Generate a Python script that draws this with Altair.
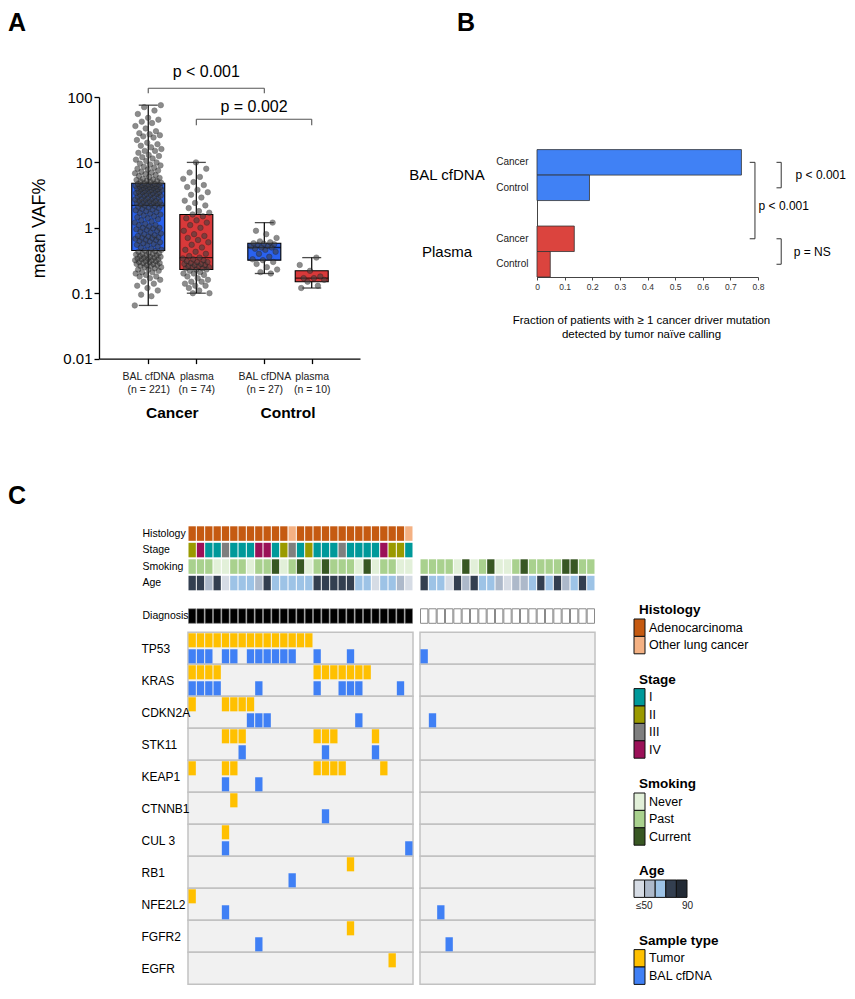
import json
import altair as alt
import pandas as pd

FONT = "Liberation Sans"

# ======================= DATA =======================
# ---- Panel A: mean VAF% per specimen ----
A_GROUP = ["Cancer", "Cancer", "Control", "Control"]
A_SAMPLE = ["BAL cfDNA", "plasma", "BAL cfDNA", "plasma"]
A_N = [221, 74, 27, 10]
A_MIN = [0.065, 0.10, 0.20, 0.12]
A_Q1 = [0.45, 0.23, 0.32, 0.15]
A_MED = [2.2, 0.35, 0.50, 0.17]
A_Q3 = [4.8, 1.6, 0.58, 0.22]
A_MAX = [75, 10, 1.2, 0.35]

VAF_BAL_CANCER = [
    0.065, 0.09, 0.095, 0.11, 0.12, 0.13, 0.14, 0.15, 0.16, 0.17,
    0.18, 0.18, 0.19, 0.20, 0.21, 0.21, 0.22, 0.23, 0.23, 0.24,
    0.25, 0.25, 0.26, 0.26, 0.27, 0.27, 0.28, 0.28, 0.29, 0.29,
    0.30, 0.30, 0.31, 0.31, 0.32, 0.32, 0.33, 0.33, 0.34, 0.34,
    0.35, 0.35, 0.36, 0.36, 0.37, 0.38, 0.38, 0.39, 0.40, 0.40,
    0.41, 0.42, 0.43, 0.44, 0.45,
    0.46, 0.48, 0.50, 0.52, 0.54, 0.55, 0.57, 0.58, 0.60, 0.62,
    0.63, 0.65, 0.66, 0.68, 0.70, 0.71, 0.72, 0.74, 0.75, 0.77,
    0.80, 0.82, 0.85, 0.88, 0.90, 0.93, 0.95, 0.98, 1.0, 1.0,
    1.05, 1.1, 1.1, 1.15, 1.2, 1.25, 1.3, 1.35, 1.4, 1.45,
    1.5, 1.55, 1.6, 1.65, 1.7, 1.75, 1.8, 1.85, 1.9, 1.95,
    2.0, 2.05, 2.1, 2.15, 2.2,
    2.25, 2.3, 2.3, 2.35, 2.4, 2.4, 2.45, 2.5, 2.5, 2.55,
    2.6, 2.6, 2.7, 2.7, 2.8, 2.8, 2.9, 2.9, 3.0, 3.0,
    3.1, 3.1, 3.2, 3.2, 3.3, 3.3, 3.4, 3.4, 3.5, 3.5,
    3.6, 3.6, 3.7, 3.7, 3.8, 3.8, 3.9, 3.9, 4.0, 4.0,
    4.1, 4.1, 4.2, 4.2, 4.3, 4.3, 4.4, 4.4, 4.5, 4.5,
    4.6, 4.6, 4.7, 4.7, 4.8,
    4.9, 5.0, 5.1, 5.2, 5.3, 5.4, 5.5, 5.6, 5.8, 6.0,
    6.2, 6.4, 6.6, 6.8, 7.0, 7.2, 7.5, 7.8, 8.0, 8.3,
    8.6, 9.0, 9.3, 9.6, 10, 10.5, 11, 11.5, 12, 12.5,
    13, 14, 15, 15, 16, 17, 18, 19, 20, 22,
    24, 25, 26, 27, 28, 30, 33, 36, 40, 42,
    45, 48, 55, 62, 70, 75,
]
VAF_PLASMA_CANCER = [
    0.10, 0.10, 0.11, 0.12, 0.13, 0.13, 0.14, 0.15, 0.15, 0.16,
    0.17, 0.18, 0.19, 0.20, 0.20, 0.21, 0.22, 0.23,
    0.23, 0.24, 0.24, 0.25, 0.25, 0.26, 0.26, 0.27, 0.27, 0.28,
    0.28, 0.29, 0.30, 0.30, 0.31, 0.32, 0.33, 0.34, 0.35,
    0.37, 0.40, 0.43, 0.46, 0.50, 0.55, 0.60, 0.65, 0.70, 0.75,
    0.80, 0.90, 1.0, 1.1, 1.2, 1.3, 1.4, 1.5, 1.6,
    1.7, 1.8, 2.0, 2.2, 2.4, 2.6, 2.9, 3.2, 3.5, 3.8,
    4.2, 4.5, 5.0, 5.6, 6.0, 7.0, 8.0, 10.0,
]
VAF_BAL_CONTROL = [
    0.20, 0.21, 0.23, 0.25, 0.28, 0.30, 0.32, 0.33, 0.36, 0.40,
    0.43, 0.46, 0.48, 0.50, 0.50, 0.52, 0.53, 0.55, 0.56, 0.57,
    0.58, 0.60, 0.62, 0.70, 0.80, 0.90, 1.2,
]
VAF_PLASMA_CONTROL = [0.12, 0.13, 0.15, 0.16, 0.17, 0.17, 0.18, 0.22, 0.27, 0.35]
A_PVALUES = ["p < 0.001", "p = 0.002"]
A_PAIRS = [(0, 2), (1, 3)]

# ---- Panel B: fraction of patients with >=1 driver mutation ----
B_SPECIMEN = ["BAL cfDNA", "BAL cfDNA", "Plasma", "Plasma"]
B_COHORT = ["Cancer", "Control", "Cancer", "Control"]
B_FRACTION = [0.74, 0.19, 0.135, 0.048]
B_PVALUES = ["p < 0.001", "p < 0.001", "p = NS"]
B_PAIRS = [(0, 1), (0, 2), (2, 3)]

# ---- Panel C: oncoprint ----
GENES = ["TP53", "KRAS", "CDKN2A", "STK11", "KEAP1", "CTNNB1", "CUL 3",
         "RB1", "NFE2L2", "FGFR2", "EGFR"]
HIST_LEVELS = ["Adenocarcinoma", "Other lung cancer"]
STAGE_LEVELS = ["I", "II", "III", "IV"]
SMOKE_LEVELS = ["Never", "Past", "Current"]
AGE_LEVELS = ["≤50", "51-60", "61-70", "71-80", "81-90"]
AGE_RAMP_LABELS = ["≤50", "90"]
SAMPLE_LEVELS = ["Tumor", "BAL cfDNA"]

CANCER_HISTOLOGY = ["Adenocarcinoma"] * 12 + ["Other lung cancer"] + \
    ["Adenocarcinoma"] * 13 + ["Other lung cancer"]
CANCER_STAGE = ["II", "IV", "I", "I", "III", "I", "I", "I", "IV", "IV", "I", "II", "III",
                "I", "II", "I", "I", "I", "III", "I", "I", "I", "I", "IV", "II", "II", "I"]
CANCER_SMOKING = ["Past", "Past", "Past", "Never", "Never", "Past", "Past", "Never", "Past",
                  "Past", "Current", "Never", "Past", "Current", "Never", "Past", "Current",
                  "Past", "Past", "Past", "Never", "Current", "Never", "Past", "Past",
                  "Never", "Never"]
CANCER_AGE = [4, 4, 2, 4, 1, 3, 3, 3, 2, 4, 3, 3, 3, 3, 3, 4, 4, 4, 4, 4, 3, 3, 1, 3, 3, 2, 1]
CONTROL_SMOKING = ["Past", "Past", "Past", "Past", "Never", "Current", "Never", "Past",
                   "Current", "Never", "Never", "Past", "Current", "Past", "Past", "Past",
                   "Past", "Current", "Current", "Past", "Past"]
CONTROL_AGE = [4, 3, 3, 1, 4, 2, 4, 3, 3, 2, 1, 2, 2, 3, 4, 3, 4, 2, 3, 4, 3]

CANCER_TUMOR = [
    [0, 1, 2, 3, 4, 5, 6, 7, 8, 9, 10, 11, 12, 13, 14],
    [0, 1, 2, 3, 15, 16, 17, 18, 19, 20, 21],
    [0, 4, 5, 6, 7],
    [4, 5, 6, 15, 16, 17, 22],
    [0, 4, 5, 15, 16, 17, 18, 23],
    [5], [4], [19], [0], [19], [24],
]
CANCER_BAL = [
    [0, 1, 2, 4, 5, 7, 8, 9, 10, 11, 12, 15, 19],
    [0, 1, 2, 3, 8, 15, 18, 19, 20, 25],
    [7, 8, 9, 20],
    [6, 16, 22],
    [4, 8],
    [16], [4, 26], [12], [4], [8], [],
]
CONTROL_TUMOR = [[] for _ in GENES]
CONTROL_BAL = [[0], [], [1], [], [], [], [], [], [2], [3], []]

# ======================= STYLE / LAYOUT =======================
HIST_COLORS = ["#c55a11", "#f4b183"]
STAGE_COLORS = ["#00999a", "#9a9a00", "#7f7f7f", "#9b1158"]
SMOKE_COLORS = ["#e2f0d9", "#a9d18e", "#385723"]
AGE_COLORS = ["#d6dce5", "#adb9ca", "#9dc3e6", "#333f50", "#222a35"]
SAMPLE_COLORS = ["#ffc000", "#4080f5"]
A_COLORS = ["#2a62ef", "#d8393a"]
B_COLORS = ["#4081f5", "#db443e"]

PAL = {}
for pre, lvls, cols in [("Histology", HIST_LEVELS, HIST_COLORS), ("Stage", STAGE_LEVELS, STAGE_COLORS),
                        ("Smoking", SMOKE_LEVELS, SMOKE_COLORS), ("Age", AGE_LEVELS, AGE_COLORS),
                        ("Sample", SAMPLE_LEVELS, SAMPLE_COLORS),
                        ("A", list(dict.fromkeys(A_SAMPLE)), A_COLORS),
                        ("B", list(dict.fromkeys(B_SPECIMEN)), B_COLORS)]:
    for lv, c in zip(lvls, cols):
        PAL[f"{pre}:{lv}"] = c
FILL_SCALE = alt.Scale(domain=list(PAL.keys()), range=list(PAL.values()))
FILL = dict(scale=FILL_SCALE, legend=None)

LETTER = dict(fontSize=25, fontWeight="bold", align="left", baseline="top", color="black")
LETTER_DY = -85.7

# ======================= PANEL A =======================
A_W, A_H = 261, 261.6
A_XPOS = [0.0, 1.0, 2.414, 3.4]
A_XDOM = [-0.92, 4.3]
A_BRACKETS = [(136, 114, 238), (45.7, 37, 69.6)]   # line, tip, label heights (axis units)

box_df = pd.DataFrame({"x": A_XPOS, "key": [f"A:{s}" for s in A_SAMPLE], "group": A_GROUP,
                       "mn": A_MIN, "q1": A_Q1, "med": A_MED, "q3": A_Q3, "mx": A_MAX})
pts = []
for i, vals in enumerate([VAF_BAL_CANCER, VAF_PLASMA_CANCER, VAF_BAL_CONTROL, VAF_PLASMA_CONTROL]):
    for k, v in enumerate(vals):
        jit = ((k * 0.6180339887 + 0.37 * i) % 1.0 - 0.5) * 0.56
        pts.append({"x": A_XPOS[i] + jit, "v": v})
pts_df = pd.DataFrame(pts)

A_YSCALE = alt.Scale(type="log", domain=[0.01, 100], nice=False)
A_YAXIS = alt.Axis(values=[0.01, 0.1, 1, 10, 100], format="~g", title="mean VAF%",
                   titleFontSize=18, titleFontWeight="normal", titleColor="black", titlePadding=14,
                   labelFontSize=15, labelColor="black", labelPadding=2, tickSize=5,
                   tickColor="black", domainColor="black", domainWidth=1.3, tickWidth=1.3,
                   grid=False)
A_XSCALE = alt.Scale(domain=A_XDOM, nice=False, zero=False)
lab_expr = " : ".join(
    f"abs(datum.value - {x}) < 0.01 ? ['{s}', '(n = {n})']" for x, s, n in zip(A_XPOS, A_SAMPLE, A_N)
) + " : ''"
A_XAXIS = alt.Axis(values=A_XPOS, labelExpr=lab_expr, labelFontSize=10.5, labelColor="#222",
                   labelLineHeight=12.5, labelPadding=8, tickSize=5, tickColor="black",
                   tickWidth=1.3, domainColor="black", domainWidth=1.3, grid=False, title=None,
                   labelFlush=False, labelOverlap=False)


def ax(f="x"):
    return alt.X(f"{f}:Q", scale=A_XSCALE, axis=A_XAXIS)


def ay(f):
    return alt.Y(f"{f}:Q", scale=A_YSCALE, axis=A_YAXIS)


baseA = alt.Chart(box_df)
a_whisk = baseA.mark_rule(color="black", strokeWidth=1.2).encode(x=ax(), y=ay("mn"), y2="mx:Q")
a_box = baseA.mark_bar(width=33, stroke="black", strokeWidth=1.1).encode(
    x=ax(), y=ay("q1"), y2="q3:Q", fill=alt.Fill("key:N", **FILL))
a_med = baseA.mark_tick(orient="horizontal", size=33, thickness=1.4, color="black").encode(x=ax(), y=ay("med"))
a_lo = baseA.mark_tick(orient="horizontal", size=19, thickness=1.3, color="black").encode(x=ax(), y=ay("mn"))
a_hi = baseA.mark_tick(orient="horizontal", size=19, thickness=1.3, color="black").encode(x=ax(), y=ay("mx"))
a_pts = alt.Chart(pts_df).mark_circle(size=30, color="#404040", opacity=0.6, stroke="#1a1a1a",
                                      strokeWidth=0.6).encode(x=ax(), y=ay("v"))

segs, ptxt = [], []
for lbl, (a, b), (yl, yt, ytx) in zip(A_PVALUES, A_PAIRS, A_BRACKETS):
    xa, xb = A_XPOS[a], A_XPOS[b]
    segs += [{"x": xa, "x2": xb, "y": yl, "y2": yl},
             {"x": xa, "x2": xa, "y": yt, "y2": yl},
             {"x": xb, "x2": xb, "y": yt, "y2": yl}]
    ptxt.append({"x": (xa + xb) / 2, "y": ytx, "t": lbl})
a_br = alt.Chart(pd.DataFrame(segs)).mark_rule(color="#555555", strokeWidth=1.1).encode(
    x=ax(), x2="x2:Q", y=ay("y"), y2="y2:Q")
a_pt = alt.Chart(pd.DataFrame(ptxt)).mark_text(fontSize=16, color="black").encode(
    x=ax(), y=ay("y"), text="t:N")
grp = box_df.groupby("group", sort=False)["x"].mean().reset_index()
a_grp = alt.Chart(grp).mark_text(fontSize=15.5, fontWeight="bold", color="black").encode(
    x=ax(), y=alt.value(316.3), text="group:N")
chartA = alt.layer(a_whisk, a_box, a_med, a_lo, a_hi, a_pts, a_br, a_pt, a_grp).properties(
    width=A_W, height=A_H)

# ======================= PANEL B =======================
B_W, B_H = 221, 180
B_GAP = 177                                  # gap between plot of A and plot of B
B_KEYS = [f"{s}|{c}" for s, c in zip(B_SPECIMEN, B_COHORT)]
B_DOMAIN = B_KEYS[:2] + ["_gap"] + B_KEYS[2:]
B_BRACKET_X = [(0.867, 0.884), (0.770, 0.789), (0.867, 0.884)]

XB_SCALE = alt.Scale(domain=[0, 0.8], nice=False, zero=False)
XB_AXIS = alt.Axis(values=[0, 0.1, 0.2, 0.3, 0.4, 0.5, 0.6, 0.7, 0.8], format="~g",
                   title=["Fraction of patients with ≥ 1 cancer driver mutation",
                          "detected by tumor naïve calling"],
                   titleFontSize=11.5, titleFontWeight="normal", titleColor="black",
                   titlePadding=24, titleLineHeight=14, titleX=104,
                   labelFontSize=8.5, labelColor="#333", labelPadding=2, tickSize=3,
                   tickColor="#444", domainColor="#444", grid=False, labelFlush=False)
YB_SCALE = alt.Scale(domain=B_DOMAIN, range=[52.6, 180], paddingInner=0, paddingOuter=0)
YB_AXIS = alt.Axis(labelExpr="indexof(datum.value, '|') > 0 ? split(datum.value, '|')[1] : ''",
                   ticks=False, tickSize=0, labelPadding=9, labelFontSize=10, labelColor="#222",
                   domainColor="#444", title=None, grid=False)


def bx(f):
    return alt.X(f"{f}:Q", scale=XB_SCALE, axis=XB_AXIS)


def by(bp=None):
    if bp is None:
        return alt.Y("key:N", scale=YB_SCALE, axis=YB_AXIS)
    return alt.Y("key:N", scale=YB_SCALE, axis=YB_AXIS, bandPosition=bp)


b_df = pd.DataFrame({"key": B_KEYS, "fk": [f"B:{s}" for s in B_SPECIMEN], "frac": B_FRACTION})
b_bars = alt.Chart(b_df).mark_bar(stroke="#333333", strokeWidth=0.8).encode(
    x=bx("frac"), y=by(), fill=alt.Fill("fk:N", **FILL))
lines = []
for j, ((a, b), (xi, xo)) in enumerate(zip(B_PAIRS, B_BRACKET_X)):
    lines += [{"b": j, "o": 0, "x": xi, "key": B_KEYS[a]},
              {"b": j, "o": 1, "x": xo, "key": B_KEYS[a]},
              {"b": j, "o": 2, "x": xo, "key": B_KEYS[b]},
              {"b": j, "o": 3, "x": xi, "key": B_KEYS[b]}]
b_lines = alt.Chart(pd.DataFrame(lines)).mark_line(color="#333333", strokeWidth=1).encode(
    x=bx("x"), y=by(), detail="b:N", order="o:Q")
b_t1 = alt.Chart(pd.DataFrame({"x": [0.936, 0.929], "key": [B_KEYS[0], B_KEYS[2]],
                               "t": [B_PVALUES[0], B_PVALUES[2]]})).mark_text(
    fontSize=12, align="left", color="black").encode(x=bx("x"), y=by(1), text="t:N")
b_t2 = alt.Chart(pd.DataFrame({"x": [0.802], "key": ["_gap"], "t": [B_PVALUES[1]]})).mark_text(
    fontSize=12, align="left", color="black").encode(x=bx("x"), y=by(0.2), text="t:N")
b_grp = alt.Chart(pd.DataFrame({"key": [f"{s}|Cancer" for s in dict.fromkeys(B_SPECIMEN)],
                                "t": list(dict.fromkeys(B_SPECIMEN))})).mark_text(
    fontSize=15, align="center", color="black").encode(x=alt.value(-90), y=by(1), text="t:N")
b_letter = alt.Chart(pd.DataFrame({"t": ["B"]})).mark_text(**LETTER).encode(
    x=alt.value(-80), y=alt.value(LETTER_DY), text="t:N")
chartB = alt.layer(b_bars, b_lines, b_t1, b_t2, b_grp, b_letter).properties(width=B_W, height=B_H)

# ======================= PANEL C =======================
PANEL_H = 458
ANN_H = 97
GENE_TOP = 106
ANN_DOMAIN = ["Histology", "Stage", "Smoking", "Age", "_sp", "Diagnosis"]
SUB_DOMAIN = [f"{g}|{s}" for g in GENES for s in SAMPLE_LEVELS]


def onco_panel(n_cols, width, ann_rows, diag_fill, diag_stroke, diag_sw, tumor, bal, labels):
    x_band = alt.Scale(domain=list(range(n_cols)), paddingInner=0.12, paddingOuter=0.06)
    xb = alt.X("col:O", scale=x_band, axis=None)
    ann_scale = alt.Scale(domain=ANN_DOMAIN, range=[0, ANN_H], paddingInner=0.12, paddingOuter=0)
    sub_scale = alt.Scale(domain=SUB_DOMAIN, range=[GENE_TOP, PANEL_H], paddingInner=0.12,
                          paddingOuter=0.06)
    if labels:
        ann_axis = alt.Axis(labelExpr="datum.value == '_sp' ? '' : datum.value", labelAlign="left",
                            labelPadding=46, labelFontSize=10.5, labelColor="black", ticks=False,
                            tickSize=0, domain=False, grid=False, title=None, orient="left",
                            zindex=1)
        gene_axis = alt.Axis(values=[i + 0.5 for i in range(len(GENES))],
                             labelExpr=f"{json.dumps(GENES)}[floor(datum.value)]",
                             labelAlign="left", labelPadding=47, labelFontSize=12,
                             labelColor="black", ticks=False, tickSize=0, domain=False,
                             grid=False, title=None, orient="left", zindex=1)
    else:
        ann_axis = None
        gene_axis = None

    bg_df = pd.DataFrame({"g0": list(range(len(GENES))), "g1": [i + 1 for i in range(len(GENES))],
                          "x0": 0, "x1": 1})
    bg = alt.Chart(bg_df).mark_rect(fill="#f1f1f1", stroke="#c2c2c2", strokeWidth=1.5).encode(
        x=alt.X("x0:Q", scale=alt.Scale(domain=[0, 1], nice=False, zero=False), axis=None),
        x2="x1:Q",
        y=alt.Y("g0:Q", scale=alt.Scale(domain=[0, len(GENES)], range=[GENE_TOP, PANEL_H],
                                        nice=False, zero=False), axis=gene_axis),
        y2="g1:Q")

    recs = []
    for row, vals in ann_rows:
        for c, v in enumerate(vals):
            recs.append({"col": c, "row": row, "key": f"{row}:{v}"})
    ann = alt.Chart(pd.DataFrame(recs)).mark_rect().encode(
        x=xb, y=alt.Y("row:N", scale=ann_scale, axis=ann_axis), fill=alt.Fill("key:N", **FILL))
    diag = alt.Chart(pd.DataFrame({"col": list(range(n_cols)), "row": "Diagnosis"})).mark_rect(
        fill=diag_fill, stroke=diag_stroke, strokeWidth=diag_sw).encode(
        x=xb, y=alt.Y("row:N", scale=ann_scale, axis=None))

    cells = []
    for g, gene in enumerate(GENES):
        for c in tumor[g]:
            cells.append({"col": c, "sub": f"{gene}|Tumor", "key": "Sample:Tumor"})
        for c in bal[g]:
            cells.append({"col": c, "sub": f"{gene}|BAL cfDNA", "key": "Sample:BAL cfDNA"})
    cell = alt.Chart(pd.DataFrame(cells)).mark_rect().encode(
        x=xb, y=alt.Y("sub:N", scale=sub_scale, axis=None), fill=alt.Fill("key:N", **FILL))
    return alt.layer(bg, ann, diag, cell).resolve_scale(x="independent", y="independent").properties(
        width=width, height=PANEL_H)


cancer_rows = [("Histology", CANCER_HISTOLOGY), ("Stage", CANCER_STAGE),
               ("Smoking", CANCER_SMOKING), ("Age", [AGE_LEVELS[a - 1] for a in CANCER_AGE])]
control_rows = [("Smoking", CONTROL_SMOKING), ("Age", [AGE_LEVELS[a - 1] for a in CONTROL_AGE])]
chartC1 = onco_panel(len(CANCER_AGE), 225, cancer_rows, "black", "#777777", 0.6,
                     CANCER_TUMOR, CANCER_BAL, True)
chartC2 = onco_panel(len(CONTROL_AGE), 175, control_rows, "white", "#8a8a8a", 1.0,
                     CONTROL_TUMOR, CONTROL_BAL, False)

# ---- legend panel ----
LEG_W = 200
LEG_STEP = 17.4
LEG_TOP = 84
leg_dom = [-LEG_TOP / LEG_STEP, (PANEL_H - LEG_TOP) / LEG_STEP]
sections = [("Histology", "Histology", HIST_LEVELS), ("Stage", "Stage", STAGE_LEVELS),
            ("Smoking", "Smoking", SMOKE_LEVELS), ("Age", "Age", None),
            ("Sample type", "Sample", SAMPLE_LEVELS)]
sw, titles, items, ramp = [], [], [], []
r = 0
for title, pre, lvls in sections:
    titles.append({"t": title, "r": r, "x": 37})
    if lvls is None:
        for i, lv in enumerate(AGE_LEVELS):
            sw.append({"key": f"Age:{lv}", "x0": 32 + 10.6 * i, "x1": 32 + 10.6 * (i + 1),
                       "y0": r + 0.5, "y1": r + 1.5})
        ramp.append({"t": AGE_RAMP_LABELS[0], "r": r + 2, "x": 34})
        ramp.append({"t": AGE_RAMP_LABELS[1], "r": r + 2, "x": 80})
        r += 4
    else:
        for i, lv in enumerate(lvls):
            sw.append({"key": f"{pre}:{lv}", "x0": 32, "x1": 43, "y0": r + i + 0.5, "y1": r + i + 1.5})
            items.append({"t": lv, "r": r + i + 1, "x": 47})
        r += len(lvls) + 2
LX = alt.Scale(domain=[0, LEG_W], nice=False, zero=False)
LY = alt.Scale(domain=leg_dom, reverse=True, nice=False, zero=False)
l_sw = alt.Chart(pd.DataFrame(sw)).mark_rect(stroke="#111111", strokeWidth=1).encode(
    x=alt.X("x0:Q", scale=LX, axis=None), x2="x1:Q",
    y=alt.Y("y0:Q", scale=LY, axis=None), y2="y1:Q", fill=alt.Fill("key:N", **FILL))
l_ti = alt.Chart(pd.DataFrame(titles)).mark_text(fontSize=13.5, fontWeight="bold", align="left",
                                                 color="black").encode(
    x=alt.X("x:Q", scale=LX, axis=None), y=alt.Y("r:Q", scale=LY, axis=None), text="t:N")
l_it = alt.Chart(pd.DataFrame(items)).mark_text(fontSize=12.5, align="left", color="black").encode(
    x=alt.X("x:Q", scale=LX, axis=None), y=alt.Y("r:Q", scale=LY, axis=None), text="t:N")
l_rp = alt.Chart(pd.DataFrame(ramp)).mark_text(fontSize=10, align="left", color="#222").encode(
    x=alt.X("x:Q", scale=LX, axis=None), y=alt.Y("r:Q", scale=LY, axis=None), text="t:N")
chartL = alt.layer(l_sw, l_ti, l_it, l_rp).properties(width=LEG_W, height=PANEL_H)

# ======================= ASSEMBLY =======================
# Each row starts with a narrow spacer view holding the panel letter, so that the
# panel plots land at their own horizontal offsets.
COL_GAP = 7
ROW_GAP = 62.3
A_LEFT = 91      # page offset of panel A plot from the letters
C_LEFT = 180     # page offset of panel C plot from the letters


def letter_view(letter, dy, width):
    return alt.Chart(pd.DataFrame({"t": [letter]})).mark_text(**LETTER).encode(
        x=alt.value(0), y=alt.value(dy), text="t:N").properties(width=width, height=1)


empty = pd.DataFrame({"t": [""]})
fill_ab = alt.Chart(empty).mark_text().encode(text="t:N").properties(width=B_GAP - 2 * COL_GAP, height=1)

top = alt.hconcat(letter_view("A", LETTER_DY, A_LEFT - COL_GAP), chartA, fill_ab, chartB,
                  spacing=COL_GAP, bounds="flush")
bottom = alt.hconcat(letter_view("C", -42, C_LEFT - COL_GAP), chartC1, chartC2, chartL,
                     spacing=COL_GAP, bounds="flush")
chart = alt.vconcat(top, bottom, spacing=ROW_GAP).properties(
    padding={"left": 0, "top": 3, "right": 0, "bottom": 0}).configure(
    font=FONT).configure_view(stroke=None)

chart.save("out.html", embed_options={"renderer": "svg", "actions": False})
